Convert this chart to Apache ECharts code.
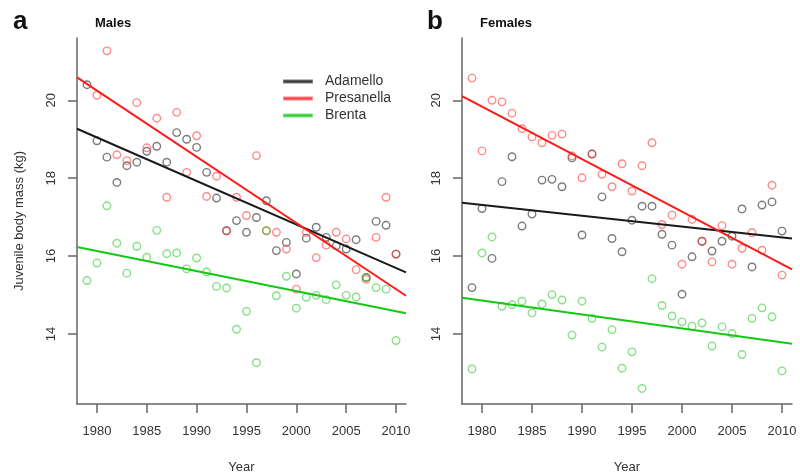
<!DOCTYPE html>
<html><head><meta charset="utf-8">
<script src="https://cdn.jsdelivr.net/npm/echarts@6/dist/echarts.min.js"></script>
<style>html,body{margin:0;padding:0;background:#fff}#c{width:800px;height:474px}</style>
</head><body><div id="c"></div>
<script>
const years = [1979,1980,1981,1982,1983,1984,1985,1986,1987,1988,1989,1990,1991,1992,1993,1994,1995,1996,1997,1998,1999,2000,2001,2002,2003,2004,2005,2006,2007,2008,2009,2010];
const yearTicks = [1980,1985,1990,1995,2000,2005,2010];
const massTicks = [14,16,18,20];
const populations = ['Adamello','Presanella','Brenta'];

const maleAdamello   = [20.40,18.96,18.54,17.89,18.32,18.41,18.69,18.82,18.41,19.17,19.00,18.79,18.15,17.49,16.65,16.91,16.61,16.99,17.42,16.14,16.35,15.54,16.46,16.74,16.48,16.26,16.18,16.42,15.45,16.89,16.79,16.05];
const malePresanella = [null,20.13,21.27,18.60,18.45,19.94,18.78,19.54,17.51,19.69,18.15,19.09,17.53,18.05,16.65,17.51,17.04,18.58,16.65,16.61,16.18,15.15,16.61,15.96,16.28,16.61,16.44,15.65,15.40,16.48,17.51,16.05];
const maleBrenta     = [15.37,15.82,17.29,16.33,15.56,16.25,15.97,16.66,16.06,16.08,15.67,15.95,15.59,15.22,15.18,14.12,14.58,13.26,16.65,14.98,15.48,14.66,14.94,14.99,14.88,15.26,14.99,14.95,15.45,15.19,15.15,13.83];

const femaleAdamello   = [15.19,17.22,15.94,17.91,18.55,16.77,17.08,17.95,17.97,17.78,18.52,16.54,18.62,17.52,16.45,16.11,16.92,17.28,17.28,16.56,16.28,15.02,15.98,16.38,16.13,16.38,16.51,17.21,15.72,17.31,17.39,16.64];
const femalePresanella = [20.57,18.70,20.00,19.96,19.67,19.27,19.06,18.91,19.10,19.13,18.57,18.01,18.62,18.10,17.78,18.37,17.67,18.32,18.91,16.81,17.05,15.79,16.94,16.38,15.85,16.78,15.79,16.20,16.60,16.15,17.82,15.51];
const femaleBrenta     = [13.10,16.08,16.49,14.71,14.75,14.84,14.54,14.77,15.01,14.87,13.97,14.84,14.40,13.66,14.11,13.12,13.54,12.60,15.42,14.73,14.46,14.31,14.20,14.28,13.69,14.18,14.01,13.47,14.40,14.67,14.44,13.05];

// fitted trend lines (values at the ends of the x range)
const trendYears = [1978, 2011];
const maleTrendAdamello     = [19.27, 15.58];
const maleTrendPresanella   = [20.59, 14.98];
const maleTrendBrenta       = [16.23, 14.53];
const femaleTrendAdamello   = [17.37, 16.45];
const femaleTrendPresanella = [20.11, 15.66];
const femaleTrendBrenta     = [14.93, 13.75];

const pointColors = ['rgba(50,50,50,0.8)','rgba(255,60,60,0.75)','rgba(40,200,40,0.7)'];
const lineColors = ['#1a1a1a','#ff1a1a','#14c814'];
const FONT = 'Liberation Sans, Arial, sans-serif';
const axisCol = '#666';

function pts(vals){ return years.map((y,i)=> vals[i]==null ? null : [y, vals[i]]).filter(p=>p); }
function trend(vals){ return trendYears.map((y,i)=>[y, vals[i]]); }

const males = [maleAdamello, malePresanella, maleBrenta];
const females = [femaleAdamello, femalePresanella, femaleBrenta];
const maleTrends = [maleTrendAdamello, maleTrendPresanella, maleTrendBrenta];
const femaleTrends = [femaleTrendAdamello, femaleTrendPresanella, femaleTrendBrenta];

const series = [];
[[males, maleTrends, 0], [females, femaleTrends, 1]].forEach(([sets, trends, gi]) => {
  sets.forEach((vals, k) => {
    series.push({
      name: populations[k], type: 'scatter', xAxisIndex: gi, yAxisIndex: gi,
      data: pts(vals), symbol: 'circle', symbolSize: 7.5,
      itemStyle: { color: 'rgba(0,0,0,0)', borderColor: pointColors[k], borderWidth: 1.4 },
      z: 2
    });
  });
  trends.forEach((vals, k) => {
    series.push({
      name: populations[k], type: 'line', xAxisIndex: gi, yAxisIndex: gi,
      data: trend(vals), showSymbol: false, symbol: 'none',
      lineStyle: { color: lineColors[k], width: 2 }, itemStyle: { color: lineColors[k] },
      z: 3
    });
  });
});

function xAx(gi){
  return {
    type: 'value', gridIndex: gi, min: 1978, max: 2011,
    name: 'Year', nameLocation: 'middle', nameGap: 57,
    nameTextStyle: { fontFamily: FONT, fontSize: 13, color: '#333' },
    axisLine: { show: true, onZero: false, lineStyle: { color: axisCol, width: 1.5 } },
    axisTick: { show: true, customValues: yearTicks, length: 9, lineStyle: { color: axisCol, width: 1.5 } },
    axisLabel: { customValues: yearTicks, margin: 21, fontFamily: FONT, fontSize: 13, color: '#333',
                 formatter: v => String(v) },
    splitLine: { show: false }
  };
}
function yAx(gi){
  const o = {
    type: 'value', gridIndex: gi, min: 12.2, max: 21.6,
    axisLine: { show: true, onZero: false, lineStyle: { color: axisCol, width: 1.5 } },
    axisTick: { show: true, customValues: massTicks, length: 9, lineStyle: { color: axisCol, width: 1.5 } },
    axisLabel: { customValues: massTicks, rotate: 90, margin: 19, fontFamily: FONT, fontSize: 13, color: '#333',
                 formatter: v => String(v) },
    splitLine: { show: false }
  };
  if (gi === 0) {
    o.name = 'Juvenile body mass (kg)';
    o.nameLocation = 'middle';
    o.nameGap = 51;
    o.nameTextStyle = { fontFamily: FONT, fontSize: 13, color: '#333' };
  }
  return o;
}

const chart = echarts.init(document.getElementById('c'), null, { renderer: 'canvas' });
chart.setOption({
  animation: false,
  backgroundColor: '#fff',
  title: [
    { text: 'a', left: 8, top: 4, textStyle: { fontFamily: FONT, fontSize: 26, fontWeight: 'bold', color: '#111' } },
    { text: 'Males', left: 90, top: 12, textStyle: { fontFamily: FONT, fontSize: 13, fontWeight: 'bold', color: '#111' } },
    { text: 'b', left: 422, top: 4, textStyle: { fontFamily: FONT, fontSize: 26, fontWeight: 'bold', color: '#111' } },
    { text: 'Females', left: 475, top: 12, textStyle: { fontFamily: FONT, fontSize: 13, fontWeight: 'bold', color: '#111' } }
  ],
  legend: {
    orient: 'vertical', left: 278, top: 68, itemGap: 0,
    itemWidth: 28, itemHeight: 2,
    data: populations.map((p,k)=>({ name: p, icon: 'rect', itemStyle: { color: lineColors[k] } })),
    textStyle: { fontFamily: FONT, fontSize: 14, color: '#333', lineHeight: 17, padding: [0,0,0,8] },
    selectedMode: false
  },
  grid: [
    { left: 77, top: 38, width: 329, height: 366, outerBoundsMode: 'none', containLabel: false },
    { left: 462, top: 38, width: 330, height: 366, outerBoundsMode: 'none', containLabel: false }
  ],
  xAxis: [xAx(0), xAx(1)],
  yAxis: [yAx(0), yAx(1)],
  series: series
});
</script></body></html>
